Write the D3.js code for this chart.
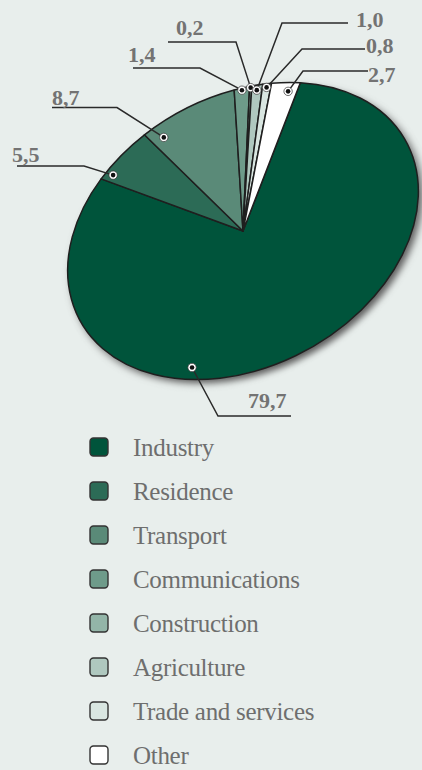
<!DOCTYPE html>
<html lang="en">
<head>
<meta charset="utf-8">
<title>Structure by sector</title>
<style>
  body { margin: 0; background: #e8eeec; }
  svg { display: block; }
  .value { font-family: "Liberation Serif", "Times New Roman", serif; font-weight: bold; font-size: 22px; fill: #737373; }
  .legend text { font-family: "Liberation Serif", "Times New Roman", serif; font-size: 25px; fill: #6e6e6e; letter-spacing: -0.3px; }
  .leader { fill: none; stroke: #2a2a2a; stroke-width: 1.5; }
</style>
</head>
<body>
<div id="chart"></div>
<script src="https://d3js.org/d3.v7.min.js"></script>
<script>
/* The data: sectors, shares (percent) and the label text as printed */
var sectors = ["Industry", "Residence", "Transport", "Communications",
               "Construction", "Agriculture", "Trade and services", "Other"];
var shares = [79.7, 5.5, 8.7, 1.4, 0.2, 1.0, 0.8, 2.7];
var shareLabels = ["79,7", "5,5", "8,7", "1,4", "0,2", "1,0", "0,8", "2,7"];
var colours = ["#00543b", "#2c6b56", "#5a8a78", "#6e9b8a",
               "#93b5a8", "#afc8bf", "#d9e6e1", "#ffffff"];

/* Where the label callouts sit (text position, horizontal line and its elbow) */
var labelX = [248, 12, 52, 128, 176, 356, 366, 368];
var labelY = [408, 162, 105, 62, 35, 27, 53, 82];
var lineX1 = [291, 17, 52, 133, 168, 348, 365, 368];
var lineX2 = [218, 84, 117, 200, 236, 282, 302, 303];
var lineY = [416, 166, 107.5, 68, 42, 23, 49, 71];
// where the marker dot sits inside its slice: share of the slice angle, share of radius
var dotT = [0.625, 0.14, 0.13, 0.5, 0.5, 0.5, 0.5, 0.67];
var dotR = [0.92, 0.95, 0.90, 0.985, 0.99, 0.965, 0.975, 0.94];

var width = 422, height = 770;
// the pie is drawn as a circle and squashed into a tilted ellipse
var cx = 243, cy = 231, r = 100;
var semiA = 186, semiB = 135, tilt = 29;
var startDeg = 41;

var svg = d3.select("#chart").append("svg")
    .attr("width", width)
    .attr("height", height);

svg.append("rect").attr("width", width).attr("height", height).attr("fill", "#e8eeec");

var defs = svg.append("defs");
defs.append("filter").attr("id", "soft")
    .attr("x", "-10%").attr("y", "-10%").attr("width", "120%").attr("height", "120%")
  .append("feGaussianBlur").attr("stdDeviation", 2.2);

var pieTransform = "translate(" + cx + "," + cy + ") rotate(" + (-tilt) + ") scale(" + (semiA / r) + "," + (semiB / r) + ")";

// Shadow under the lower right rim
svg.append("g")
    .attr("transform", "translate(4,4) " + pieTransform)
  .append("circle")
    .attr("r", r)
    .attr("fill", "#5f5f5f")
    .attr("filter", "url(#soft)");

var pie = d3.pie()
    .sort(null)
    .value(function(d) { return d; })
    .startAngle(startDeg * Math.PI / 180)
    .endAngle((startDeg + 360) * Math.PI / 180);

var arcs = pie(shares);

var arc = d3.arc().innerRadius(0).outerRadius(r);

var pieG = svg.append("g").attr("transform", pieTransform);

pieG.selectAll("path")
    .data(arcs)
  .enter().append("path")
    .attr("d", arc)
    .attr("fill", function(d, i) { return colours[i]; })
    .attr("stroke", "#1f1f1f")
    .attr("stroke-width", 1.5)
    .attr("stroke-linejoin", "round")
    .attr("vector-effect", "non-scaling-stroke");

// map a point from the circle onto the page
var rad = -tilt * Math.PI / 180;
function toPage(angle, radius) {
    var x = Math.sin(angle) * radius * semiA / r;
    var y = -Math.cos(angle) * radius * semiB / r;
    return [cx + x * Math.cos(rad) - y * Math.sin(rad),
            cy + x * Math.sin(rad) + y * Math.cos(rad)];
}

var dots = arcs.map(function(d, i) {
    var a = d.startAngle + (d.endAngle - d.startAngle) * dotT[i];
    return toPage(a, r * dotR[i]);
});

// Leader lines
svg.append("g").selectAll("path")
    .data(arcs)
  .enter().append("path")
    .attr("class", "leader")
    .attr("d", function(d, i) {
        return "M" + lineX1[i] + "," + lineY[i] + "H" + lineX2[i] + "L" + dots[i][0] + "," + dots[i][1];
    });

// Marker dots
var dotG = svg.append("g").selectAll("g")
    .data(dots)
  .enter().append("g")
    .attr("transform", function(d) { return "translate(" + d[0] + "," + d[1] + ")"; });
dotG.append("circle").attr("r", 4.2).attr("fill", "#fff").attr("stroke", "#333").attr("stroke-width", 0.7);
dotG.append("circle").attr("r", 2.3).attr("fill", "#111");

// Value labels
svg.append("g").selectAll("text")
    .data(shareLabels)
  .enter().append("text")
    .attr("class", "value")
    .attr("x", function(d, i) { return labelX[i]; })
    .attr("y", function(d, i) { return labelY[i]; })
    .text(function(d) { return d; });

// Legend
var legend = svg.append("g").attr("class", "legend")
    .attr("transform", "translate(90,438)");

var rows = legend.selectAll("g")
    .data(sectors)
  .enter().append("g")
    .attr("transform", function(d, i) { return "translate(0," + (i * 44) + ")"; });

rows.append("rect")
    .attr("width", 18)
    .attr("height", 18)
    .attr("rx", 3.5)
    .attr("fill", function(d, i) { return colours[i]; })
    .attr("stroke", "#333")
    .attr("stroke-width", 1.4);

rows.append("text")
    .attr("x", 43)
    .attr("y", 18)
    .text(function(d) { return d; });
</script>
</body>
</html>
